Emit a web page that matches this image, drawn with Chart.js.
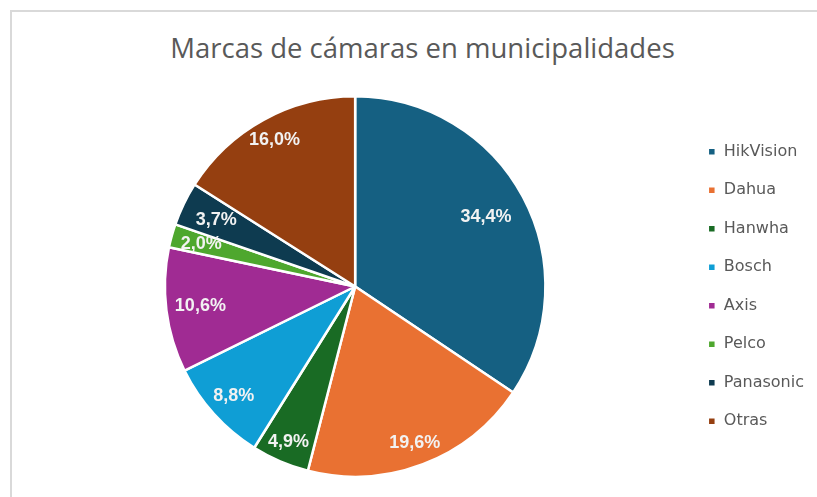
<!DOCTYPE html>
<html>
<head>
<meta charset="utf-8">
<script src="https://cdn.jsdelivr.net/npm/chart.js@4.4.1/dist/chart.umd.min.js"></script>
<style>
  html,body{margin:0;padding:0;background:#fff;}
  #frame{position:absolute;left:10px;top:10px;width:820px;height:500px;border:2px solid #d9d9d9;box-sizing:border-box;}
  #title{position:absolute;left:0;top:29px;width:845px;text-align:center;font:27.5px "Open Sans",sans-serif;color:#595959;line-height:38px;white-space:nowrap;}
  #wrap{position:absolute;left:0;top:0;width:817px;height:497px;}
</style>
</head>
<body>
<div id="frame"></div>
<div id="title">Marcas de cámaras en municipalidades</div>
<div id="wrap"><canvas id="pie"></canvas></div>
<script>
var brands=['HikVision','Dahua','Hanwha','Bosch','Axis','Pelco','Panasonic','Otras'];
var shares=[34.4,19.6,4.9,8.8,10.6,2.0,3.7,16.0];
var brandColors=['#156082','#E97132','#196B24','#0F9ED5','#A02B93','#4EA72E','#0E3B50','#953F10'];
// how far out (fraction of radius) each percent label sits
var labelReach=[0.78,0.88,0.89,0.86,0.82,0.84,0.81,0.88];

var pctLabels={
    id:'pctLabels',
    afterDatasetsDraw:function(chart){
        var ctx=chart.ctx,meta=chart.getDatasetMeta(0);
        ctx.save();
        ctx.font='bold 18px "Liberation Sans", Arial, sans-serif';
        ctx.fillStyle='#f2f2f2';
        ctx.textAlign='center';
        ctx.textBaseline='middle';
        meta.data.forEach(function(arc,i){
            var mid=(arc.startAngle+arc.endAngle)/2,r=arc.outerRadius*labelReach[i];
            var x=arc.x+Math.cos(mid)*r,y=arc.y+Math.sin(mid)*r;
            ctx.fillText(shares[i].toFixed(1).replace('.',',')+'%',x,y);
        });
        ctx.restore();
    }
};

new Chart(document.getElementById('pie'),{
    type:'pie',
    data:{
        labels:brands,
        datasets:[{
            data:shares,
            backgroundColor:brandColors,
            borderColor:'#ffffff',
            borderWidth:2.5
        }]
    },
    options:{
        responsive:true,
        maintainAspectRatio:false,
        animation:false,
        layout:{padding:{left:25,right:3,top:95,bottom:19}},
        plugins:{
            legend:{
                position:'right',
                labels:{
                    boxWidth:8,
                    boxHeight:8,
                    padding:22.5,
                    color:'#595959',
                    font:{family:'"DejaVu Sans", sans-serif',size:16}
                }
            },
            tooltip:{enabled:false}
        }
    },
    plugins:[pctLabels]
});
</script>
</body>
</html>
